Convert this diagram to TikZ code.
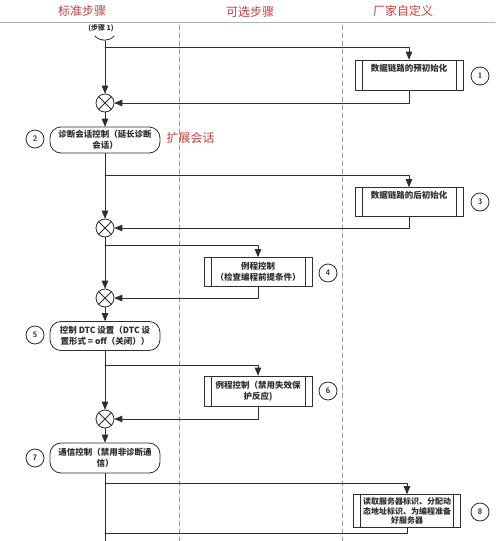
\documentclass[tikz,border=0pt]{standalone}
\usepackage{fontspec}
\newfontfamily\cjk{Noto Sans CJK SC}
\usetikzlibrary{arrows}
\definecolor{hdred}{RGB}{192,64,64}
\definecolor{ln}{RGB}{45,45,45}
\tikzset{
  proc/.style={draw=ln, rectangle, minimum width=108pt, minimum height=30pt,
    align=center, font=\cjk\bfseries\fontsize{8.5}{11.5}\selectfont, inner sep=1pt,
    path picture={
      \draw[ln] ([xshift=7pt]path picture bounding box.north west) -- ([xshift=7pt]path picture bounding box.south west);
      \draw[ln] ([xshift=-7pt]path picture bounding box.north east) -- ([xshift=-7pt]path picture bounding box.south east);}},
  stage/.style={draw=ln, rectangle, rounded corners=11pt, minimum width=110pt,
    align=center, font=\cjk\bfseries\fontsize{8.5}{11.5}\selectfont, inner sep=1pt},
  num/.style={draw=ln, circle, minimum size=18pt, inner sep=0pt, font=\sffamily\bfseries\fontsize{8}{8}\selectfont},
  merge/.style={draw=ln, circle, minimum size=18pt, inner sep=0pt,
    path picture={
      \draw[ln] (path picture bounding box.north west) -- (path picture bounding box.south east);
      \draw[ln] (path picture bounding box.north east) -- (path picture bounding box.south west);}},
  hd/.style={text=hdred, font=\cjk\fontsize{12}{14}\selectfont},
}
\begin{document}
\begin{tikzpicture}[line cap=round,line join=round,>=triangle 45,x=1pt,y=-1pt,ln,line width=0.8pt]
\useasboundingbox (0,0) rectangle (500,541);
% lanes
\node[hd] (lane1) at (82,11) {标准步骤};
\node[hd] (lane2) at (250,12) {可选步骤};
\node[hd] (lane3) at (403,11) {厂家自定义};
\draw[gray!60, line width=0.6pt] (0,22) -- (495,22);
\draw[gray!80, dashed, dash pattern=on 5pt off 3pt] (179,25) -- (179,541);
\draw[gray!80, dashed, dash pattern=on 5pt off 3pt] (342,25) -- (342,541);
% start
\node[font=\cjk\bfseries\fontsize{7}{8}\selectfont, inner sep=0pt] (start) at (101,28) {(步骤 1)};
\draw (95,36) to[bend right=50] (114,36);
\coordinate (s0) at (105,41);
% merges
\node[merge] (m1) at (105,103) {};
\node[merge] (m2) at (105,228) {};
\node[merge] (m3) at (105,298) {};
\node[merge] (m4) at (105,419) {};
% standard steps
\node[stage, minimum height=26pt] (s2) at (105,140) {诊断会话控制（延长诊断\\会话）};
\node[stage, minimum height=29pt] (s5) at (105,336) {控制 DTC 设置（DTC 设\\置形式 = off（关闭））};
\node[stage, minimum height=30pt] (s7) at (105,458) {通信控制（禁用非诊断通\\信）};
\node[text=hdred, font=\cjk\fontsize{12}{14}\selectfont, anchor=west] (ext) at (163,138) {扩展会话};
% optional and vendor steps
\node[proc] (b1) at (409,75) {数据链路的预初始化\\[3pt]};
\node[proc, minimum height=29pt] (b3) at (409,202) {数据链路的后初始化\\[3pt]};
\node[proc, minimum height=29pt] (b4) at (258,272) {例程控制\\（检查编程前提条件）};
\node[proc] (b6) at (258,391) {例程控制（禁用失效保\\护反应)};
\node[proc, minimum width=107pt, minimum height=33pt, font=\cjk\bfseries\fontsize{8}{9.5}\selectfont] (b8) at (407,511) {读取服务器标识、分配动\\态地址标识、为编程准备\\好服务器};
% numbers
\node[num] (n1) at (480,76) {1};
\node[num] (n2) at (35,139) {2};
\node[num] (n3) at (480,202) {3};
\node[num] (n4) at (328,273) {4};
\node[num] (n5) at (35,335) {5};
\node[num] (n6) at (328,391) {6};
\node[num] (n7) at (35,458) {7};
\node[num] (n8) at (480,512) {8};
% main flow
\draw[->] (s0) -- (m1);
\draw[->] (m1) -- (s2);
\draw[->] (s2) -- (m2);
\draw[->] (m2) -- (m3);
\draw[->] (m3) -- (s5);
\draw[->] (s5) -- (m4);
\draw[->] (m4) -- (s7);
\coordinate (end) at (105,541);
\draw (s7) -- (end);
% branches
\coordinate (f1) at (105,47);
\coordinate (f2) at (105,175);
\coordinate (f3) at (105,245);
\coordinate (f4) at (105,365);
\coordinate (f5) at (105,483);
\draw[->] (f1) -| (b1.north);
\draw[->] (f2) -| (b3.north);
\draw[->] (f3) -| (b4.north);
\draw[->] (f4) -| (b6.north);
\draw[->] (f5) -| (b8.north);
% returns
\draw[->] (b1.south) |- (m1.east);
\draw[->] (b3.south) |- (m2.east);
\draw[->] (b4.south) |- (m3.east);
\draw[->] (b6.south) |- (m4.east);
\coordinate (r5) at (105,533);
\draw (b8.south) |- (r5);
\end{tikzpicture}
\end{document}
